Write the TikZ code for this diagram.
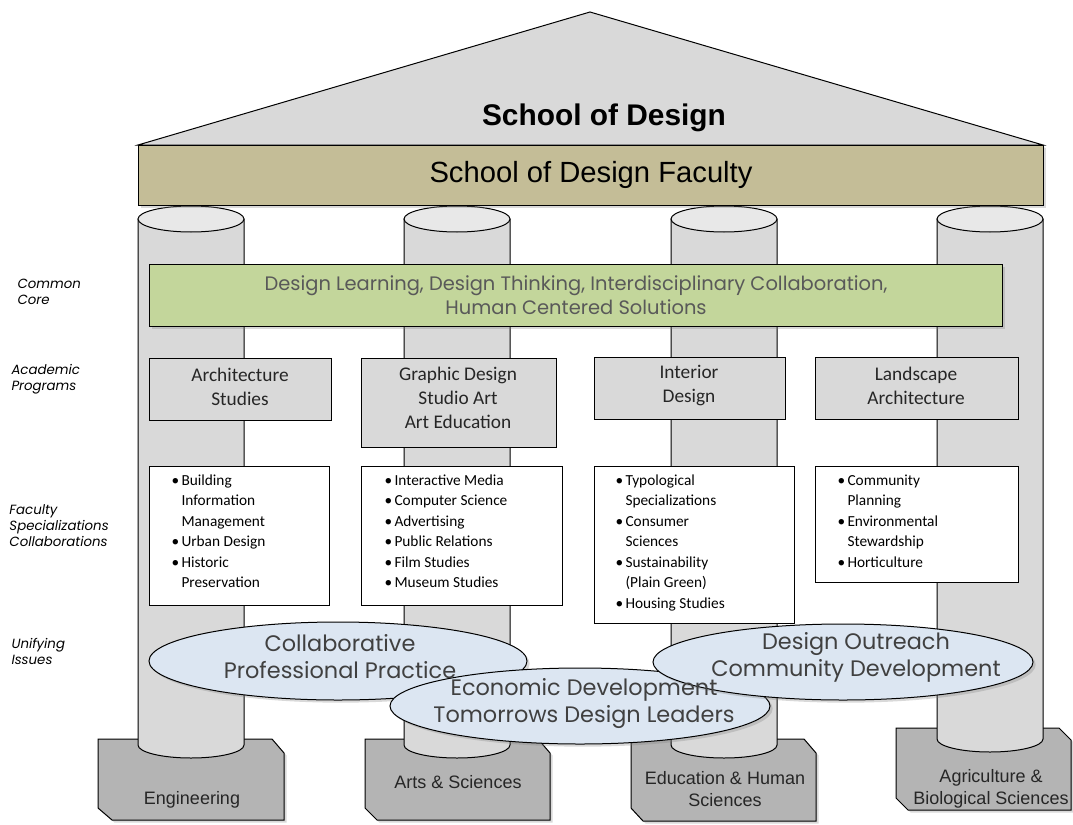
\documentclass[tikz,border=0pt]{standalone}
\usepackage{fontspec}
\setmainfont{Liberation Sans}
\newfontfamily\gothic{Poppins}
\newfontfamily\calib{Carlito}
\usetikzlibrary{shadows}

\newcommand{\specdot}{\makebox[7.5pt][l]{\textbullet}}
\newcommand{\specgap}{\hspace*{7.5pt}}

\tikzset{every picture/.style={line width=0.75pt}}
\tikzset{
  soft shadow/.style={drop shadow={opacity=0.3,shadow xshift=2pt,shadow yshift=-2pt}},
  plinth/.style={fill={rgb, 255:red, 180; green, 180; blue, 180 },soft shadow},
  pillar/.style={fill={rgb, 255:red, 217; green, 217; blue, 217 }},
  pillar top/.style={fill={rgb, 255:red, 232; green, 232; blue, 232 }},
  progbox/.style={fill={rgb, 255:red, 217; green, 217; blue, 217 }},
  specbox/.style={fill=white},
  issue/.style={fill={rgb, 255:red, 220; green, 230; blue, 242 },soft shadow},
  rowlabel/.style={anchor=north west,inner sep=0.75pt,align=left,font=\gothic\itshape\fontsize{10}{12}\selectfont},
  progtext/.style={inner sep=0.75pt,align=center,color={rgb, 255:red, 38; green, 38; blue, 38 },font=\calib\fontsize{14.5}{18}\selectfont},
  spectext/.style={anchor=north west,inner sep=0.75pt,align=left,font=\calib\fontsize{11.5}{15.4}\selectfont},
  issuetext/.style={inner sep=0.75pt,align=center,color={rgb, 255:red, 64; green, 64; blue, 64 },font=\gothic\fontsize{16.8}{20.25}\selectfont},
  plinthtext/.style={inner sep=0.75pt,align=center,color={rgb, 255:red, 38; green, 38; blue, 38 },font=\fontsize{13.5}{16.5}\selectfont}
}

\begin{document}
\begin{tikzpicture}[x=0.75pt,y=0.75pt,yscale=-1,xscale=1]
\useasboundingbox (0,0) rectangle (1073,824);

%Shape: Roof
\draw [fill={rgb, 255:red, 217; green, 217; blue, 217 },soft shadow] (138,145) -- (590,12) -- (1043,145) -- cycle ;

%Shape: Plinths
\draw [plinth] (98,739) -- (272,739) -- (284,753) -- (284,820) -- (112,820) -- (98,808) -- cycle ;
\draw [plinth] (365,739) -- (538,739) -- (550,753) -- (550,820) -- (377,820) -- (365,808) -- cycle ;
\draw [plinth] (631,739) -- (804,739) -- (816,753) -- (816,821) -- (643,821) -- (631,808) -- cycle ;
\draw [plinth] (896,728) -- (1059,728) -- (1071,740) -- (1071,810) -- (908,810) -- (896,798) -- cycle ;

%Shape: Pillar 1
\draw [pillar] (138,219) -- (138,745) .. controls (138,752.18) and (161.73,758) .. (191,758) .. controls (220.27,758) and (244,752.18) .. (244,745) -- (244,219) -- cycle ;
\draw [pillar top] (138,219) .. controls (138,211.82) and (161.73,206) .. (191,206) .. controls (220.27,206) and (244,211.82) .. (244,219) .. controls (244,226.18) and (220.27,232) .. (191,232) .. controls (161.73,232) and (138,226.18) .. (138,219) -- cycle ;
%Shape: Pillar 2
\draw [pillar] (404,219) -- (404,745) .. controls (404,752.18) and (427.73,758) .. (457,758) .. controls (486.27,758) and (510,752.18) .. (510,745) -- (510,219) -- cycle ;
\draw [pillar top] (404,219) .. controls (404,211.82) and (427.73,206) .. (457,206) .. controls (486.27,206) and (510,211.82) .. (510,219) .. controls (510,226.18) and (486.27,232) .. (457,232) .. controls (427.73,232) and (404,226.18) .. (404,219) -- cycle ;
%Shape: Pillar 3
\draw [pillar] (671,219) -- (671,745) .. controls (671,752.18) and (694.73,758) .. (724,758) .. controls (753.27,758) and (777,752.18) .. (777,745) -- (777,219) -- cycle ;
\draw [pillar top] (671,219) .. controls (671,211.82) and (694.73,206) .. (724,206) .. controls (753.27,206) and (777,211.82) .. (777,219) .. controls (777,226.18) and (753.27,232) .. (724,232) .. controls (694.73,232) and (671,226.18) .. (671,219) -- cycle ;
%Shape: Pillar 4
\draw [pillar] (937,219) -- (937,739) .. controls (937,746.18) and (960.73,752) .. (990,752) .. controls (1019.27,752) and (1043,746.18) .. (1043,739) -- (1043,219) -- cycle ;
\draw [pillar top] (937,219) .. controls (937,211.82) and (960.73,206) .. (990,206) .. controls (1019.27,206) and (1043,211.82) .. (1043,219) .. controls (1043,226.18) and (1019.27,232) .. (990,232) .. controls (960.73,232) and (937,226.18) .. (937,219) -- cycle ;

%Shape: Beam
\draw [fill={rgb, 255:red, 196; green, 189; blue, 151 },soft shadow] (138,145) rectangle (1043,205) ;

%Shape: Common core bar
\draw [fill={rgb, 255:red, 195; green, 214; blue, 155 },soft shadow] (149,264) rectangle (1002,326) ;

%Shape: Programme boxes
\draw [progbox] (149,358) rectangle (331,420) ;
\draw [progbox] (361,358) rectangle (556,447) ;
\draw [progbox] (594,357) rectangle (785,419) ;
\draw [progbox] (815,357) rectangle (1018,419) ;

%Shape: Specialisation boxes
\draw [specbox] (149,466) rectangle (329,605) ;
\draw [specbox] (361,466) rectangle (562,605) ;
\draw [specbox] (594,466) rectangle (794,623) ;
\draw [specbox] (815,466) rectangle (1018,582) ;

%Shape: Unifying issues
\draw [issue] (149,661) .. controls (149,639.46) and (233.62,622) .. (338,622) .. controls (442.38,622) and (527,639.46) .. (527,661) .. controls (527,682.54) and (442.38,700) .. (338,700) .. controls (233.62,700) and (149,682.54) .. (149,661) -- cycle ;
\draw [issue] (390,706) .. controls (390,685.01) and (475.06,668) .. (580,668) .. controls (684.94,668) and (770,685.01) .. (770,706) .. controls (770,726.99) and (684.94,744) .. (580,744) .. controls (475.06,744) and (390,726.99) .. (390,706) -- cycle ;
\draw [issue] (653,662) .. controls (653,641.01) and (738.06,624) .. (843,624) .. controls (947.94,624) and (1033,641.01) .. (1033,662) .. controls (1033,682.99) and (947.94,700) .. (843,700) .. controls (738.06,700) and (653,682.99) .. (653,662) -- cycle ;

% Text Node
\draw (604,118) node (school) [inner sep=0.75pt,font=\fontsize{22.4}{26}\selectfont\bfseries] {School of Design};
% Text Node
\draw (591,175) node (faculty) [inner sep=0.75pt,font=\fontsize{21.9}{26}\selectfont] {School of Design Faculty};
% Text Node
\draw (576,295) node (core) [inner sep=0.75pt,align=center,color={rgb, 255:red, 89; green, 89; blue, 89 },font=\gothic\fontsize{14.6}{18}\selectfont] {Design Learning, Design Thinking, Interdisciplinary Collaboration,\\Human Centered Solutions};

% Text Node
\draw (16,278) node (lblcore) [rowlabel] {Common\\Core};
% Text Node
\draw (10,363) node (lblprog) [rowlabel] {Academic\\Programs};
% Text Node
\draw (8,503) node (lblspec) [rowlabel] {Faculty\\Specializations\\Collaborations};
% Text Node
\draw (10,637) node (lblissue) [rowlabel] {Unifying\\Issues};

% Text Node
\draw (240,387) node (arch) [progtext] {Architecture\\Studies};
% Text Node
\draw (458,398) node (graphic) [progtext] {Graphic Design\\Studio Art\\Art Education};
% Text Node
\draw (689,386) node (interior) [progtext] {Interior\\Design};
% Text Node
\draw (916,386) node (landscape) [progtext] {Landscape\\Architecture};

% Text Node
\draw (170,473) node (archspec) [spectext] {\specdot Building\\\specgap Information\\\specgap Management\\\specdot Urban Design\\\specdot Historic\\\specgap Preservation};
% Text Node
\draw (383,473) node (graphicspec) [spectext] {\specdot Interactive Media\\\specdot Computer Science\\\specdot Advertising\\\specdot Public Relations\\\specdot Film Studies\\\specdot Museum Studies};
% Text Node
\draw (614,473) node (interiorspec) [spectext] {\specdot Typological\\\specgap Specializations\\\specdot Consumer\\\specgap Sciences\\\specdot Sustainability\\\specgap (Plain Green)\\\specdot Housing Studies};
% Text Node
\draw (836,473) node (landscapespec) [spectext] {\specdot Community\\\specgap Planning\\\specdot Environmental\\\specgap Stewardship\\\specdot Horticulture};

% Text Node
\draw (340,657) node (practice) [issuetext] {Collaborative\\Professional Practice};
% Text Node
\draw (584,703) node (economic) [issuetext] {Economic Development\\Tomorrows Design Leaders};
% Text Node
\draw (856,657) node (outreach) [issuetext] {Design Outreach\\Community Development};

% Text Node
\draw (192,800) node (eng) [plinthtext] {Engineering};
% Text Node
\draw (458,782) node (artsci) [plinthtext] {Arts \& Sciences};
% Text Node
\draw (725,789) node (edhum) [plinthtext] {Education \& Human\\Sciences};
% Text Node
\draw (991,789) node (agbio) [plinthtext] {Agriculture \&\\Biological Sciences};

\end{tikzpicture}
\end{document}
